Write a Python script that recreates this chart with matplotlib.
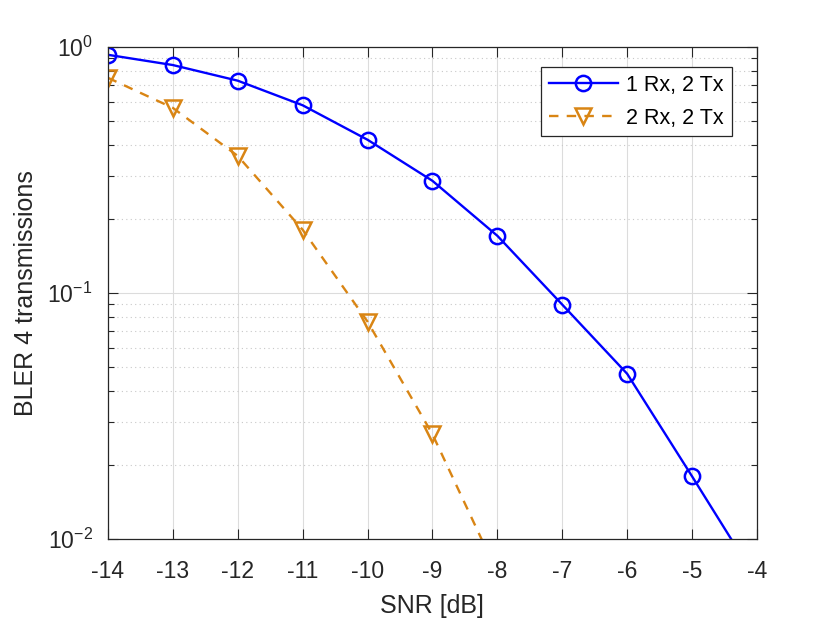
import numpy as np
import matplotlib.pyplot as plt
from matplotlib.ticker import LogLocator, NullFormatter

plt.rcParams['font.family'] = ['Liberation Sans', 'DejaVu Sans']
plt.rcParams['mathtext.fontset'] = 'custom'
plt.rcParams['mathtext.rm'] = 'Liberation Sans'
plt.rcParams['mathtext.it'] = 'Liberation Sans:italic'
plt.rcParams['mathtext.bf'] = 'Liberation Sans:bold'

# SNR in dB and block error rates after 4 transmissions
snr = [-14, -13, -12, -11, -10, -9, -8, -7, -6, -5, -4]
bler_1rx = [0.93, 0.845, 0.73, 0.58, 0.42, 0.286, 0.171, 0.0898, 0.047, 0.018, 0.0068]
snr_2rx = [-14, -13, -12, -11, -10, -9, -8]
bler_2rx = [0.75, 0.566, 0.361, 0.181, 0.0766, 0.0267, 0.0073]

x_ticks = list(range(-14, -3))
blue = '#0000FF'
orange = '#D98514'
ink = '#262626'

fig = plt.figure(figsize=(8.3, 6.19), dpi=100)
ax = fig.add_axes([0.130, 0.129, 0.782, 0.795])

ax.plot(snr, bler_1rx, '-o', color=blue, lw=1.7, ms=11, mfc='none', mew=1.8,
        label='1 Rx, 2 Tx')
ax.plot(snr_2rx, bler_2rx, '--v', color=orange, lw=1.7, ms=11, mfc='none', mew=1.8,
        label='2 Rx, 2 Tx', dashes=(4, 3.5))

ax.set_yscale('log')
ax.set_xlim(-14, -4)
ax.set_ylim(1e-2, 1)
ax.set_xticks(x_ticks)
ax.set_xticklabels([str(t) for t in x_ticks])
ax.yaxis.set_minor_locator(LogLocator(base=10, subs=np.arange(2, 10)))
ax.yaxis.set_minor_formatter(NullFormatter())

ax.grid(True, which='major', color='#DCDCDC', lw=0.8, ls='-')
ax.grid(True, which='minor', axis='y', color='#C8C8C8', lw=0.8, ls=(0, (1, 3)))
ax.set_axisbelow(True)

ax.tick_params(which='both', direction='in', top=True, right=True, colors=ink,
               labelsize=16.5)
ax.tick_params(which='major', length=7, width=0.8)
ax.tick_params(which='minor', length=4, width=0.8)
ax.tick_params(axis='x', pad=15)
ax.tick_params(axis='y', pad=11)
for s in ax.spines.values():
    s.set_color(ink)
    s.set_linewidth(0.9)

ax.set_xlabel('SNR [dB]', fontsize=18, color=ink, labelpad=8)
ax.set_ylabel('BLER 4 transmissions', fontsize=18, color=ink, labelpad=7)

leg = ax.legend(loc='upper right', bbox_to_anchor=(0.961, 0.959), borderaxespad=0,
                fontsize=15.5, fancybox=False, framealpha=1, edgecolor=ink,
                handlelength=3.2, borderpad=0.35, labelspacing=0.55, handletextpad=0.4)
leg.get_frame().set_linewidth(0.9)

fig.savefig('out.png', dpi=100)
